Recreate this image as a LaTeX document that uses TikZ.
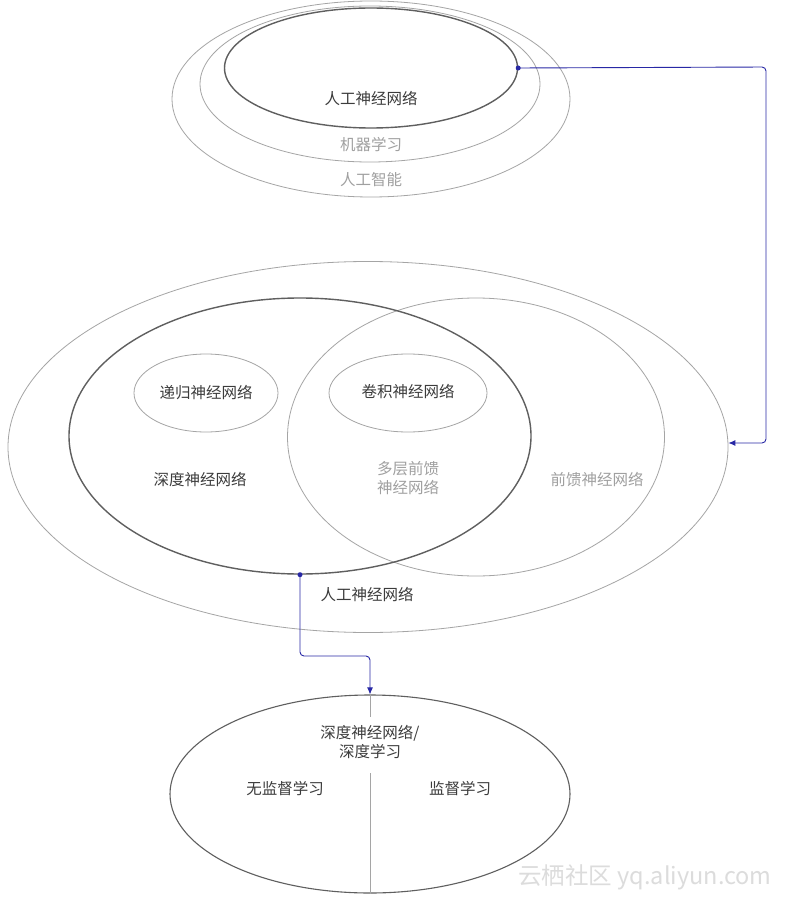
\documentclass[tikz,border=0pt]{standalone}
\usepackage{fontspec}
\setmainfont{Noto Sans CJK SC}
\usetikzlibrary{shapes.geometric,arrows.meta}
\definecolor{linkblue}{RGB}{40,40,165}
\definecolor{darkline}{RGB}{95,95,95}
\definecolor{lightline}{RGB}{165,165,165}
\definecolor{darktext}{RGB}{60,60,60}
\definecolor{greytext}{RGB}{160,160,160}
\definecolor{wmark}{RGB}{220,220,220}
\begin{document}
\begin{tikzpicture}[x=1pt,y=-1pt,
  ell/.style={ellipse,draw=lightline,line width=0.8pt,inner sep=0pt},
  ellthick/.style={ellipse,draw=darkline,line width=1.4pt,inner sep=0pt},
  lab/.style={text=darktext,font=\fontsize{15.5}{19}\selectfont,inner sep=0pt,align=center},
  glab/.style={text=greytext,font=\fontsize{15.5}{19}\selectfont,inner sep=0pt,align=center},
  link/.style={draw=linkblue,line width=0.9pt,rounded corners=4pt},
  dot/.style={circle,fill=linkblue,inner sep=0pt,minimum size=5pt}]
\useasboundingbox (0,0) rectangle (785,901);
\fill[white] (0,0) rectangle (785,901);

% top group
\node[ell,minimum width=398pt,minimum height=196pt] (ai) at (371,99) {};
\node[ell,minimum width=340pt,minimum height=156pt] (ml) at (370,84) {};
\node[ellthick,minimum width=293pt,minimum height=120pt] (annTop) at (371,68) {};
\node[lab] (tAnn) at (371,99) {人工神经网络};
\node[glab] (tMl) at (371,145) {机器学习};
\node[glab] (tAi) at (371,180) {人工智能};

% middle group
\node[ell,minimum width=720pt,minimum height=371pt] (big) at (368,447) {};
\node[ell,minimum width=377pt,minimum height=278pt] (ffn) at (476,437) {};
\node[ellthick,minimum width=462pt,minimum height=276pt] (dnn) at (300,436) {};
\node[ell,minimum width=144pt,minimum height=78pt] (rnn) at (206,393) {};
\node[ell,minimum width=158pt,minimum height=78pt] (cnn) at (408,393) {};
\node[lab] (tRnn) at (206,393) {递归神经网络};
\node[lab] (tCnn) at (408,392) {卷积神经网络};
\node[lab] (tDnn) at (200,480) {深度神经网络};
\node[glab] (tMlp) at (408,478) {多层前馈\\神经网络};
\node[glab] (tFfn) at (597,480) {前馈神经网络};
\node[lab] (tBig) at (367,594) {人工神经网络};

% bottom group
\node[ellthick,line width=1.1pt,minimum width=400pt,minimum height=198pt] (dl) at (370,794) {};
\node[lab] (tDl) at (370,742) {深度神经网络/\\深度学习};
\node[lab] (tUns) at (285,789) {无监督学习};
\node[lab] (tSup) at (460,789) {监督学习};
\coordinate (gapTop) at (370,717);
\coordinate (gapBot) at (370,773);
\draw[lightline,line width=0.9pt] (dl.north) -- (gapTop);
\draw[lightline,line width=0.9pt] (gapBot) -- (dl.south);

% connectors
\node[dot] (d1) at (annTop.east) {};
\draw[link,-{Latex[length=7pt,width=6pt]}] (d1.center) -- (766,67) -- (766,443) -- (big.east |- 0,443);
\node[dot] (d2) at (dnn.south) {};
\draw[link,-{Latex[length=7pt,width=6pt]}] (d2.center) -- (300,656) -- (370,656) -- (dl.north);

% watermark
\node[text=wmark,font=\fontsize{23.5}{27}\selectfont,inner sep=0pt] (wm) at (645,877) {云栖社区 yq.aliyun.com};
\end{tikzpicture}
\end{document}
